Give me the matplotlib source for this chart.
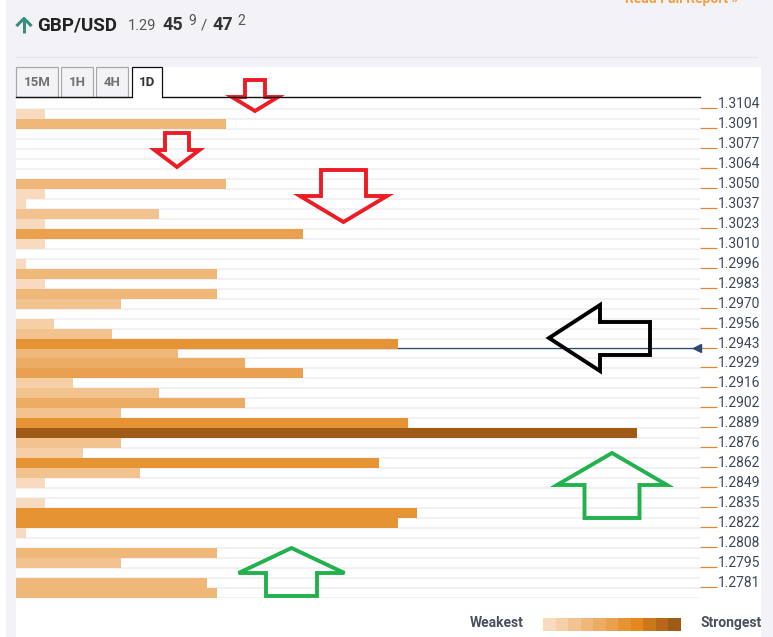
import numpy as np
import matplotlib
matplotlib.use("Agg")
import matplotlib.pyplot as plt
from matplotlib.patches import Rectangle, Polygon

plt.rcParams['font.family'] = ['Roboto', 'DejaVu Sans']

# confluence strength per price row (top row = highest price), 0 = nothing
strength = [3, 22, 0, 0, 0, 0, 0, 22, 3, 1,
            15, 3, 30, 3, 0, 1, 21, 3, 21, 11,
            0, 4, 10, 40, 17, 24, 30, 6, 15, 24,
            11, 41, 65, 11, 7, 38, 13, 3, 0, 3,
            42, 40, 1, 0, 21, 11, 0, 20, 21]

price_labels = ["1.3104", "1.3091", "1.3077", "1.3064", "1.3050", "1.3037",
                "1.3023", "1.3010", "1.2996", "1.2983", "1.2970", "1.2956",
                "1.2943", "1.2929", "1.2916", "1.2902", "1.2889", "1.2876",
                "1.2862", "1.2849", "1.2835", "1.2822", "1.2808", "1.2795",
                "1.2781"]
current_price = 1.2943

palette = ['#F8DBBE', '#F5CFA6', '#F2C38E', '#EFB879', '#ECAC63', '#E9A04F',
           '#E69433', '#E4871E', '#CD761C', '#B6671A', '#9F5A15']

W, H = 773, 637
fig = plt.figure(figsize=(W / 100, H / 100), dpi=100)

# background layer in pixel coordinates
bg = fig.add_axes([0, 0, 1, 1], zorder=0)
bg.set_xlim(0, W)
bg.set_ylim(H, 0)
bg.axis('off')
bg.add_patch(Rectangle((6, 0), W - 6, 67, color='#F2F2F7', lw=0))
bg.add_patch(Rectangle((6, 67), 10, H - 67, color='#F2F2F7', lw=0))
bg.add_patch(Rectangle((761, 0), 12, H, color='#F2F2F7', lw=0))
bg.plot([16, 757], [56.5, 56.5], color='#E4E4EA', lw=0.8)

# bar chart
n = len(strength)
max_s = max(strength)
ax = fig.add_axes([16 / W, (H - 598) / H, (700 - 16) / W, (598 - 108) / H], zorder=1)
ax.set_facecolor('none')
rows = np.arange(n)
colors = [palette[min(10, int(round(s / max_s * 10)))] for s in strength]
ax.barh(rows, strength, height=1.0, color=colors, zorder=3, lw=0)
for b in np.arange(n + 1) - 0.5:
    ax.axhline(b, color='#EEEEF3', lw=1.1, zorder=1)
ax.set_xlim(0, 71.6)
ax.set_ylim(n - 0.5, -0.5)

label_vals = [float(p) for p in price_labels]
label_rows = np.arange(len(price_labels)) * 2 - 0.6
cur_row = np.interp(current_price, label_vals[::-1], label_rows[::-1])
ax.axhline(cur_row, color='#2C4A74', lw=0.9, zorder=2)
ax.plot([71.3], [cur_row], marker='<', color='#2C4A74', ms=6, zorder=4, clip_on=False)

ax.yaxis.tick_right()
ax.set_yticks(label_rows)
ax.set_yticklabels(price_labels)
ax.tick_params(axis='y', length=12.5, width=0.9, color='#D98A35', pad=0.5,
               labelsize=10, labelcolor='#3E4757')
for t in ax.get_yticklabels():
    t.set_va('baseline')
ax.set_xticks([])
for s in ax.spines.values():
    s.set_visible(False)

# overlay: header, tabs, legend, arrows
ov = fig.add_axes([0, 0, 1, 1], zorder=5)
ov.set_facecolor('none')
ov.set_xlim(0, W)
ov.set_ylim(H, 0)
ov.axis('off')

# link at the top edge, cut off as in the screenshot
ov.text(625, 3, "Read Full Report \u00bb", color='#F0A040', fontsize=10,
        fontweight='bold', va='baseline', ha='left')

# up arrow icon
ov.plot([24, 24], [33, 19], color='#3C8E80', lw=2.2, solid_capstyle='butt')
ov.plot([17.5, 24, 30.5], [25, 18.5, 25], color='#3C8E80', lw=2.2)
ov.text(37, 30, "GBP/USD", fontsize=13.5, fontweight='bold', color='#222222', va='baseline')
ov.text(128, 30, "1.29", fontsize=10.5, color='#555555', va='baseline')
ov.text(162, 30, "45", fontsize=13, fontweight='bold', color='#333333', va='baseline')
ov.text(188, 25, "9", fontsize=10, color='#555555', va='baseline')
ov.text(201, 30, "/", fontsize=11, color='#555555', va='baseline')
ov.text(212, 30, "47", fontsize=13, fontweight='bold', color='#333333', va='baseline')
ov.text(237, 25, "2", fontsize=10, color='#555555', va='baseline')

# timeframe tabs
tabs = [("15M", 16, 58), ("1H", 61, 93), ("4H", 96, 128), ("1D", 132, 162)]
for name, x0, x1 in tabs:
    active = name == "1D"
    ov.add_patch(Rectangle((x0, 67), x1 - x0, 30,
                           facecolor='white' if active else '#F2F2F7',
                           edgecolor='#111111' if active else '#A8A8A8', lw=0.9))
    ov.text((x0 + x1) / 2, 82.5, name, ha='center', va='center', fontsize=9.5,
            fontweight='bold', color='#333333' if active else '#707070')
ov.add_patch(Rectangle((132.5, 95), 29, 4, facecolor='white', lw=0))
ov.plot([16, 132], [97.3, 97.3], color='#111111', lw=1)
ov.plot([162, 700], [97.3, 97.3], color='#111111', lw=1)

# legend
ov.text(497, 623, "Weakest", ha='center', va='center', fontsize=10,
        fontweight='bold', color='#4A4F5E')
bw = (681 - 543) / len(palette)
for i, c in enumerate(palette):
    ov.add_patch(Rectangle((543 + i * bw, 618), bw + 0.3, 13, color=c, lw=0))
ov.text(731, 623, "Strongest", ha='center', va='center', fontsize=10,
        fontweight='bold', color='#4A4F5E')


def arrow_v(cx, shaft_w, head_w, y0, y_head, y_tip, color):
    sx0, sx1 = cx - shaft_w / 2, cx + shaft_w / 2
    hx0, hx1 = cx - head_w / 2, cx + head_w / 2
    pts = [(sx0, y0), (sx1, y0), (sx1, y_head), (hx1, y_head), (cx, y_tip),
           (hx0, y_head), (sx0, y_head)]
    ov.add_patch(Polygon(pts, closed=True, fill=False, edgecolor=color, lw=2.8,
                         joinstyle='miter'))


red = '#ED1C24'
green = '#22B14C'
arrow_v(255, 20, 46, 80, 97, 111, red)
arrow_v(177, 24, 45, 133, 150, 167, red)
arrow_v(343.5, 45, 87, 170, 196, 222, red)
arrow_v(612, 55, 110, 518, 485, 453, green)
arrow_v(291.5, 51, 106, 596, 573, 548, green)

# black arrow pointing at the current price
ov.add_patch(Polygon([(549, 338), (600, 305), (600, 322), (650, 322), (650, 355),
                      (600, 355), (600, 371)], closed=True, fill=False,
                     edgecolor='black', lw=2.8, joinstyle='miter'))

fig.savefig("out.png", dpi=100)
